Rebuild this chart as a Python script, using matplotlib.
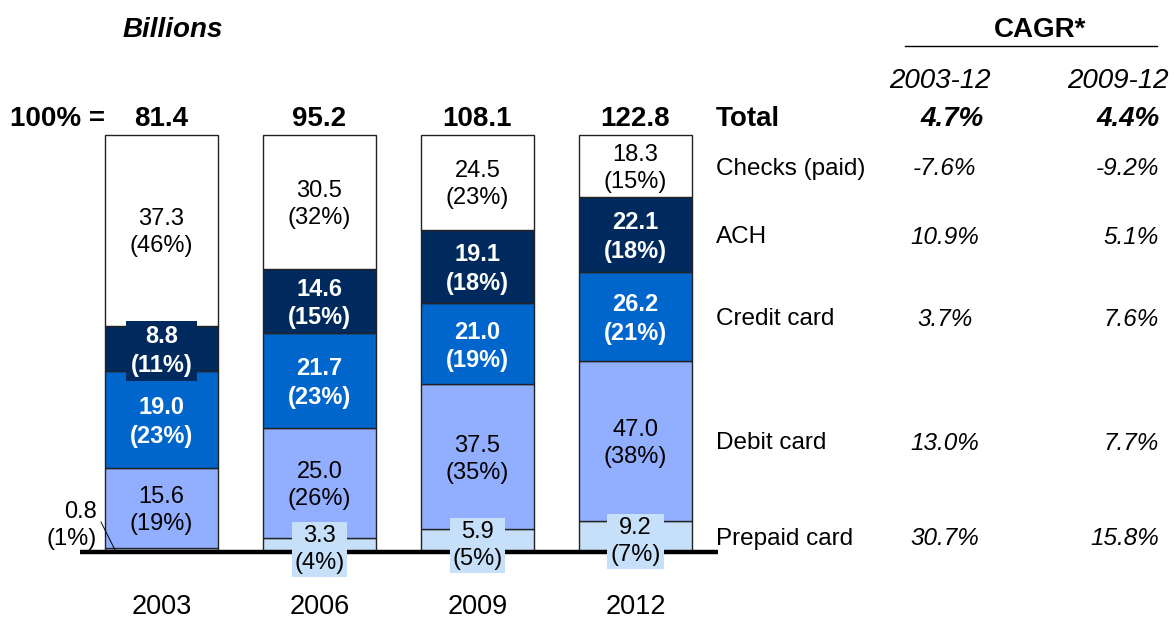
import numpy as np
import matplotlib.pyplot as plt
import matplotlib

matplotlib.rcParams.update({
    "font.family": ["Liberation Sans", "DejaVu Sans"],
})

years = ["2003", "2006", "2009", "2012"]
totals = ["81.4", "95.2", "108.1", "122.8"]
segments = ["Prepaid card", "Debit card", "Credit card", "ACH", "Checks (paid)"]
# values (billions), bottom to top
prepaid = [0.8, 3.3, 5.9, 9.2]
debit = [15.6, 25.0, 37.5, 47.0]
credit = [19.0, 21.7, 21.0, 26.2]
ach = [8.8, 14.6, 19.1, 22.1]
checks = [37.3, 30.5, 24.5, 18.3]
# shares as printed on the chart
prepaid_pct = [1, 4, 5, 7]
debit_pct = [19, 26, 35, 38]
credit_pct = [23, 23, 19, 21]
ach_pct = [11, 15, 18, 18]
checks_pct = [46, 32, 23, 15]

cagr_cols = ["2003-12", "2009-12"]
cagr_total = ["4.7%", "4.4%"]
cagr_0312 = ["30.7%", "13.0%", "3.7%", "10.9%", "-7.6%"]
cagr_0912 = ["15.8%", "7.7%", "7.6%", "5.1%", "-9.2%"]

values = [prepaid, debit, credit, ach, checks]
pcts = [prepaid_pct, debit_pct, credit_pct, ach_pct, checks_pct]
colors = ["#c6e0fa", "#91aeff", "#0066cc", "#002a5e", "#ffffff"]
txt_dark = [False, False, True, True, False]

W, H = 1174, 620
fig = plt.figure(figsize=(W / 100, H / 100), dpi=100)
ax = fig.add_axes([0, 0, 1, 1])
ax.axis("off")

# pixel layout -> data coords
X0, DX = 161.5, 158.0
Y0, HY = 552.0, 417.0
ax.set_xlim(-X0 / DX, (W - X0) / DX)
ax.set_ylim((Y0 - H) / HY, Y0 / HY)
OFF = 2.5 / HY  # text sits a bit low in the original


def dx(px):
    return (px - X0) / DX


def dy(py):
    return (Y0 - py) / HY - OFF


VS = 17
BIG = 20
LS = 1.3
x = np.arange(len(years))
sums = np.sum(values, axis=0)
bottom = np.zeros(len(years))
centers = []
for k, (vals, pc) in enumerate(zip(values, pcts)):
    frac = np.array(vals) / sums
    ax.bar(x, frac, bottom=bottom, width=113 / DX, color=colors[k],
           edgecolor="#222222", linewidth=1.0, zorder=2)
    mid = bottom + frac / 2 - OFF
    centers.append(mid)
    for i in range(len(years)):
        lab = f"{vals[i]:.1f}\n({pc[i]}%)"
        if k == 0:
            if i == 0:
                ax.text(dx(97), dy(523), lab, ha="right", va="center",
                        fontsize=VS, linespacing=LS, zorder=5)
                ax.plot([dx(101), dx(116)], [dy(522) + OFF, dy(552) + OFF],
                        color="black", lw=0.7, zorder=5)
            else:
                ax.text(i, mid[i] - 0.006, lab, ha="center", va="center",
                        fontsize=VS, linespacing=LS, zorder=5,
                        bbox=dict(facecolor=colors[0], edgecolor="none",
                                  pad=2))
        elif txt_dark[k]:
            bb = None
            if k == 3 and i == 0:
                bb = dict(facecolor=colors[3], edgecolor="none", pad=3)
            ax.text(i, mid[i], lab, ha="center", va="center", fontsize=VS,
                    fontweight="bold", color="white", linespacing=LS,
                    zorder=5, bbox=bb)
        else:
            ax.text(i, mid[i], lab, ha="center", va="center", fontsize=VS,
                    linespacing=LS, zorder=5)
    bottom = bottom + frac

# baseline
ax.plot([dx(80), dx(718)], [0, 0], color="black", lw=3.2, zorder=4,
        solid_capstyle="butt")

# year labels and totals
for i, (yr, tot) in enumerate(zip(years, totals)):
    ax.text(i, dy(604), yr, ha="center", va="center", fontsize=19.5)
    ax.text(i, dy(116), tot, ha="center", va="center", fontsize=BIG,
            fontweight="bold")
ax.text(dx(10), dy(116), "100% =", ha="left", va="center", fontsize=BIG,
        fontweight="bold")
ax.text(dx(173), dy(27), "Billions", ha="center", va="center", fontsize=BIG,
        fontweight="bold", style="italic")

# CAGR table
ax.text(dx(1040), dy(27), "CAGR*", ha="center", va="center", fontsize=BIG,
        fontweight="bold")
ax.plot([dx(905), dx(1157)], [dy(46) + OFF, dy(46) + OFF], color="black",
        lw=1.0)
ax.text(dx(940), dy(78), cagr_cols[0], ha="center", va="center",
        fontsize=BIG, style="italic")
ax.text(dx(1118), dy(78), cagr_cols[1], ha="center", va="center",
        fontsize=BIG, style="italic")
ax.text(dx(716), dy(116), "Total", ha="left", va="center", fontsize=BIG,
        fontweight="bold")
ax.text(dx(952), dy(116), cagr_total[0], ha="center", va="center",
        fontsize=BIG, fontweight="bold", style="italic")
ax.text(dx(1160), dy(116), cagr_total[1], ha="right", va="center",
        fontsize=BIG, fontweight="bold", style="italic")
for k in range(len(segments)):
    yk = centers[k][-1]
    ax.text(dx(716), yk, segments[k], ha="left", va="center", fontsize=17.5)
    ax.text(dx(945), yk, cagr_0312[k], ha="center", va="center",
            fontsize=17.5, style="italic")
    ax.text(dx(1159), yk, cagr_0912[k], ha="right", va="center",
            fontsize=17.5, style="italic")

fig.savefig("out.png", dpi=100)
